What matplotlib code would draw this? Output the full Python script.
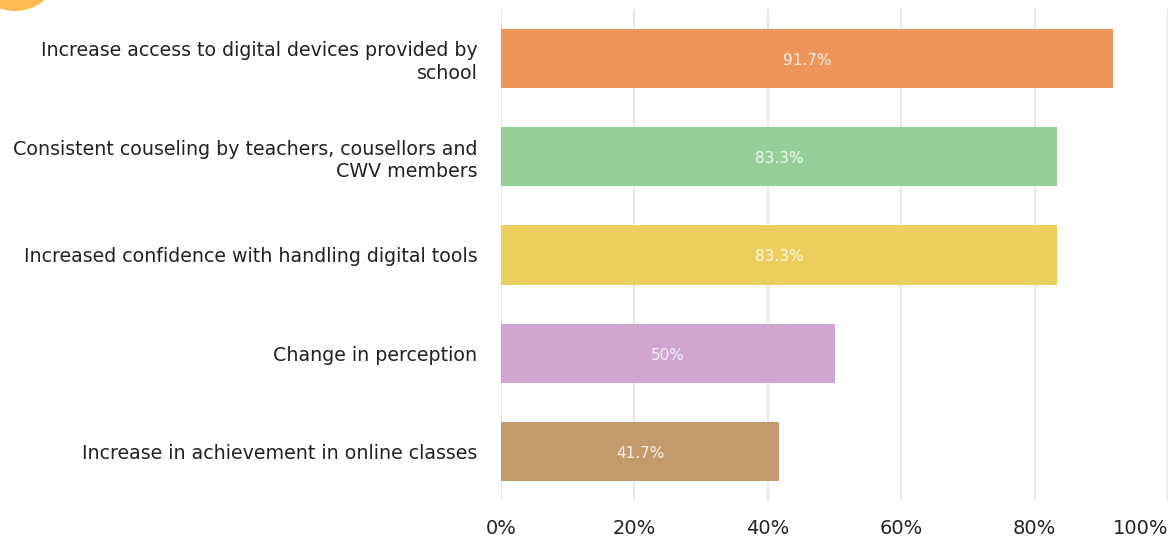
import matplotlib
matplotlib.use("Agg")
import matplotlib.pyplot as plt
from matplotlib.patches import Ellipse

# datos del gráfico
categorias = [
    "Increase access to digital devices provided by\nschool",
    "Consistent couseling by teachers, cousellors and\nCWV members",
    "Increased confidence with handling digital tools",
    "Change in perception",
    "Increase in achievement in online classes",
]
valores = [91.7, 83.3, 83.3, 50, 41.7]
etiquetas = ["91.7%", "83.3%", "83.3%", "50%", "41.7%"]
colores = ["#EE965A", "#96CF98", "#EBCE5B", "#D1A5CF", "#C39A6B"]
ticks = [0, 20, 40, 60, 80, 100]
tick_labels = ["0%", "20%", "40%", "60%", "80%", "100%"]

fig = plt.figure(figsize=(11.74, 5.38), dpi=100)
ax = fig.add_axes([0.4268, 0.0688, 0.5682, 0.9145])

pos = list(range(len(categorias)))
barras = ax.barh(pos, valores, height=0.6, color=colores, zorder=2)
for b, txt in zip(barras, etiquetas):
    ax.text(b.get_width() / 2, b.get_y() + b.get_height() / 2 + 0.02, txt,
            ha="center", va="center", color="white", fontsize=11, alpha=0.85, zorder=3)

ax.set_ylim(len(categorias) - 0.5, -0.5)
ax.set_xlim(0, 100)
ax.set_yticks(pos)
ax.set_yticklabels(categorias, fontsize=13.7, color="#222222", linespacing=1.25)
ax.set_xticks(ticks)
ax.set_xticklabels(tick_labels, fontsize=14, color="#222222")
ax.get_xticklabels()[-1].set_horizontalalignment("right")
ax.tick_params(axis="both", length=0)
ax.tick_params(axis="x", pad=13)
ax.tick_params(axis="y", pad=17)
for s in ax.spines.values():
    s.set_visible(False)
ax.grid(axis="x", color="#E3E3EA", linewidth=1.2, zorder=0)
ax.set_axisbelow(True)

# circulo decorativo arriba a la izquierda
fig.patches.append(Ellipse((15 / 1174, 1 + 35 / 538), 92 / 1174, 92 / 538,
                           transform=fig.transFigure, facecolor="#FFBA50", edgecolor="none"))

fig.savefig("out.png", dpi=100)
